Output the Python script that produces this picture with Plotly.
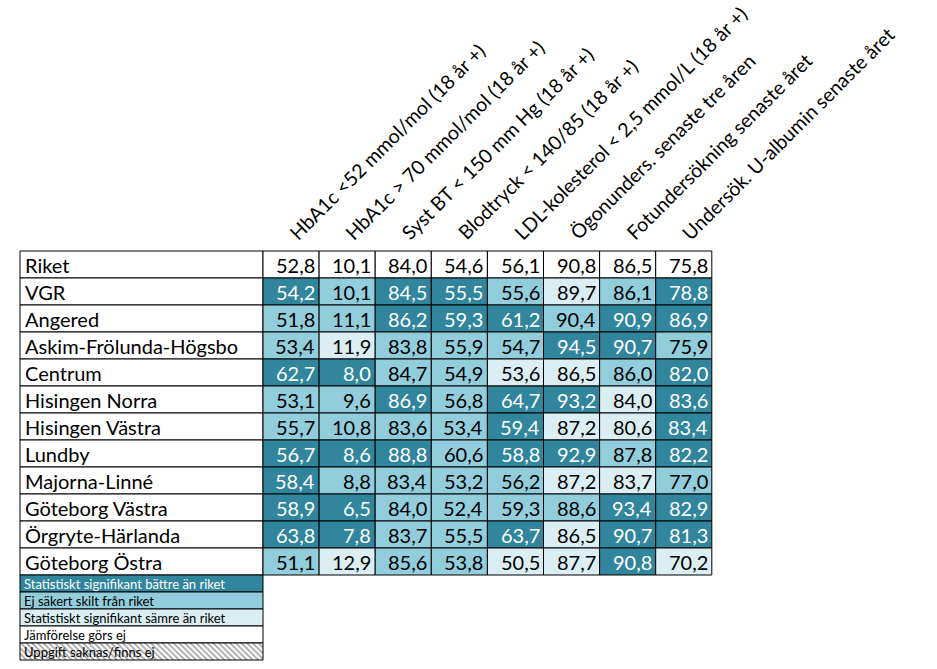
import plotly.graph_objects as go

# ---------------- data ----------------
rows = ["Riket", "VGR", "Angered", "Askim-Frölunda-Högsbo", "Centrum", "Hisingen Norra",
        "Hisingen Västra", "Lundby", "Majorna-Linné", "Göteborg Västra",
        "Örgryte-Härlanda", "Göteborg Östra"]

headers = ["HbA1c <52 mmol/mol (18 år +)", "HbA1c > 70 mmol/mol (18 år +)",
           "Syst BT < 150 mm Hg (18 år +)", "Blodtryck < 140/85 (18 år +)",
           "LDL-kolesterol < 2,5 mmol/L (18 år +)", "Ögonunders. senaste tre åren",
           "Fotundersökning senaste året", "Undersök. U-albumin senaste året"]

hba1c_52 = [52.8, 54.2, 51.8, 53.4, 62.7, 53.1, 55.7, 56.7, 58.4, 58.9, 63.8, 51.1]
hba1c_70 = [10.1, 10.1, 11.1, 11.9, 8.0, 9.6, 10.8, 8.6, 8.8, 6.5, 7.8, 12.9]
syst_bt = [84.0, 84.5, 86.2, 83.8, 84.7, 86.9, 83.6, 88.8, 83.4, 84.0, 83.7, 85.6]
blodtryck = [54.6, 55.5, 59.3, 55.9, 54.9, 56.8, 53.4, 60.6, 53.2, 52.4, 55.5, 53.8]
ldl = [56.1, 55.6, 61.2, 54.7, 53.6, 64.7, 59.4, 58.8, 56.2, 59.3, 63.7, 50.5]
ogon = [90.8, 89.7, 90.4, 94.5, 86.5, 93.2, 87.2, 92.9, 87.2, 88.6, 86.5, 87.7]
fot = [86.5, 86.1, 90.9, 90.7, 86.0, 84.0, 80.6, 87.8, 83.7, 93.4, 90.7, 90.8]
ualb = [75.8, 78.8, 86.9, 75.9, 82.0, 83.6, 83.4, 82.2, 77.0, 82.9, 81.3, 70.2]

# B = bättre, E = ej säkert skilt, S = sämre, J = jämförelse görs ej
cls_hba1c_52 = ["J", "B", "E", "E", "B", "E", "E", "B", "B", "B", "B", "E"]
cls_hba1c_70 = ["J", "E", "E", "S", "B", "E", "E", "B", "E", "B", "B", "S"]
cls_syst_bt = ["J", "B", "B", "E", "E", "B", "E", "B", "E", "E", "E", "E"]
cls_blodtryck = ["J", "B", "B", "E", "E", "E", "E", "E", "E", "E", "E", "E"]
cls_ldl = ["J", "E", "B", "E", "S", "B", "B", "B", "E", "E", "B", "S"]
cls_ogon = ["J", "S", "E", "B", "S", "B", "S", "B", "S", "E", "S", "S"]
cls_fot = ["J", "E", "B", "B", "E", "S", "S", "E", "S", "B", "B", "B"]
cls_ualb = ["J", "B", "B", "E", "B", "B", "B", "B", "E", "B", "B", "S"]

legend_labels = ["Statistiskt signifikant bättre än riket", "Ej säkert skilt från riket",
                 "Statistiskt signifikant sämre än riket", "Jämförelse görs ej",
                 "Uppgift saknas/finns ej"]
legend_classes = ["B", "E", "S", "J", "N"]

values = [hba1c_52, hba1c_70, syst_bt, blodtryck, ldl, ogon, fot, ualb]
classes = [cls_hba1c_52, cls_hba1c_70, cls_syst_bt, cls_blodtryck, cls_ldl, cls_ogon,
           cls_fot, cls_ualb]

# ---------------- styles ----------------
COLORS = {"B": "#31859C", "E": "#92CDDC", "S": "#DAEEF3", "J": "#FFFFFF", "N": "#FFFFFF"}
TEXTCOL = {"B": "#FFFFFF", "E": "#000000", "S": "#000000", "J": "#000000", "N": "#000000"}
FONT = "Lato"

W, H = 937, 669
left = 20
name_w = 243
col_w = 56.1
top = 251
row_h = 27
leg_h = 17

col_left = [left + name_w + i * col_w for i in range(len(headers))]
row_c = [top + row_h * (i + 0.5) for i in range(len(rows))]
table_bottom = top + row_h * len(rows)
leg_c = [table_bottom + leg_h * (i + 0.5) for i in range(len(legend_labels))]

fig = go.Figure()
line = dict(color="black", width=1)

# name column
fig.add_trace(go.Bar(orientation="h", y=row_c, x=[name_w] * len(rows), base=[left] * len(rows),
                     width=[row_h] * len(rows), marker=dict(color="white", line=line),
                     hoverinfo="skip", showlegend=False))
# data columns
for j in range(len(headers)):
    fig.add_trace(go.Bar(orientation="h", y=row_c, x=[col_w] * len(rows),
                         base=[col_left[j]] * len(rows), width=[row_h] * len(rows),
                         marker=dict(color=[COLORS[c] for c in classes[j]], line=line),
                         hoverinfo="skip", showlegend=False))
# legend rows
fig.add_trace(go.Bar(orientation="h", y=leg_c, x=[name_w] * len(leg_c), base=[left] * len(leg_c),
                     width=[leg_h] * len(leg_c),
                     marker=dict(color=[COLORS[c] for c in legend_classes], line=line,
                                 pattern=dict(shape=["", "", "", "", "\\"], fgcolor="black",
                                              bgcolor="white", size=4, solidity=0.4)),
                     hoverinfo="skip", showlegend=False))

ann = []
for i, r in enumerate(rows):
    ann.append(dict(x=left + 3, y=row_c[i], text=r, xanchor="left", yanchor="middle",
                    showarrow=False, font=dict(family=FONT, size=20, color="black")))
for j in range(len(headers)):
    for i in range(len(rows)):
        v = values[j][i]
        c = classes[j][i]
        ann.append(dict(x=col_left[j] + col_w - 2, y=row_c[i],
                        text=f"{v:.1f}".replace(".", ","), xanchor="right", yanchor="middle",
                        showarrow=False, font=dict(family=FONT, size=20, color=TEXTCOL[c])))
    ann.append(dict(x=col_left[j] + 19, y=top - 4, text=headers[j], textangle=-45,
                    xanchor="left", yanchor="bottom", showarrow=False,
                    font=dict(family=FONT, size=19.5, color="black")))
for i, t in enumerate(legend_labels):
    ann.append(dict(x=left + 2, y=leg_c[i], text=t, xanchor="left", yanchor="middle",
                    showarrow=False,
                    font=dict(family=FONT, size=13, color=TEXTCOL[legend_classes[i]])))

fig.update_layout(
    width=W, height=H, margin=dict(l=0, r=0, t=0, b=0),
    paper_bgcolor="white", plot_bgcolor="white", barmode="overlay", bargap=0,
    xaxis=dict(range=[0, W], visible=False, fixedrange=True),
    yaxis=dict(range=[H, 0], visible=False, fixedrange=True),
    annotations=ann, showlegend=False,
)
fig.write_html("out.html", config={"displayModeBar": False, "staticPlot": True},
               post_script="document.body.style.margin='0';document.body.style.padding='0';"
                           "document.body.style.overflow='hidden';")
